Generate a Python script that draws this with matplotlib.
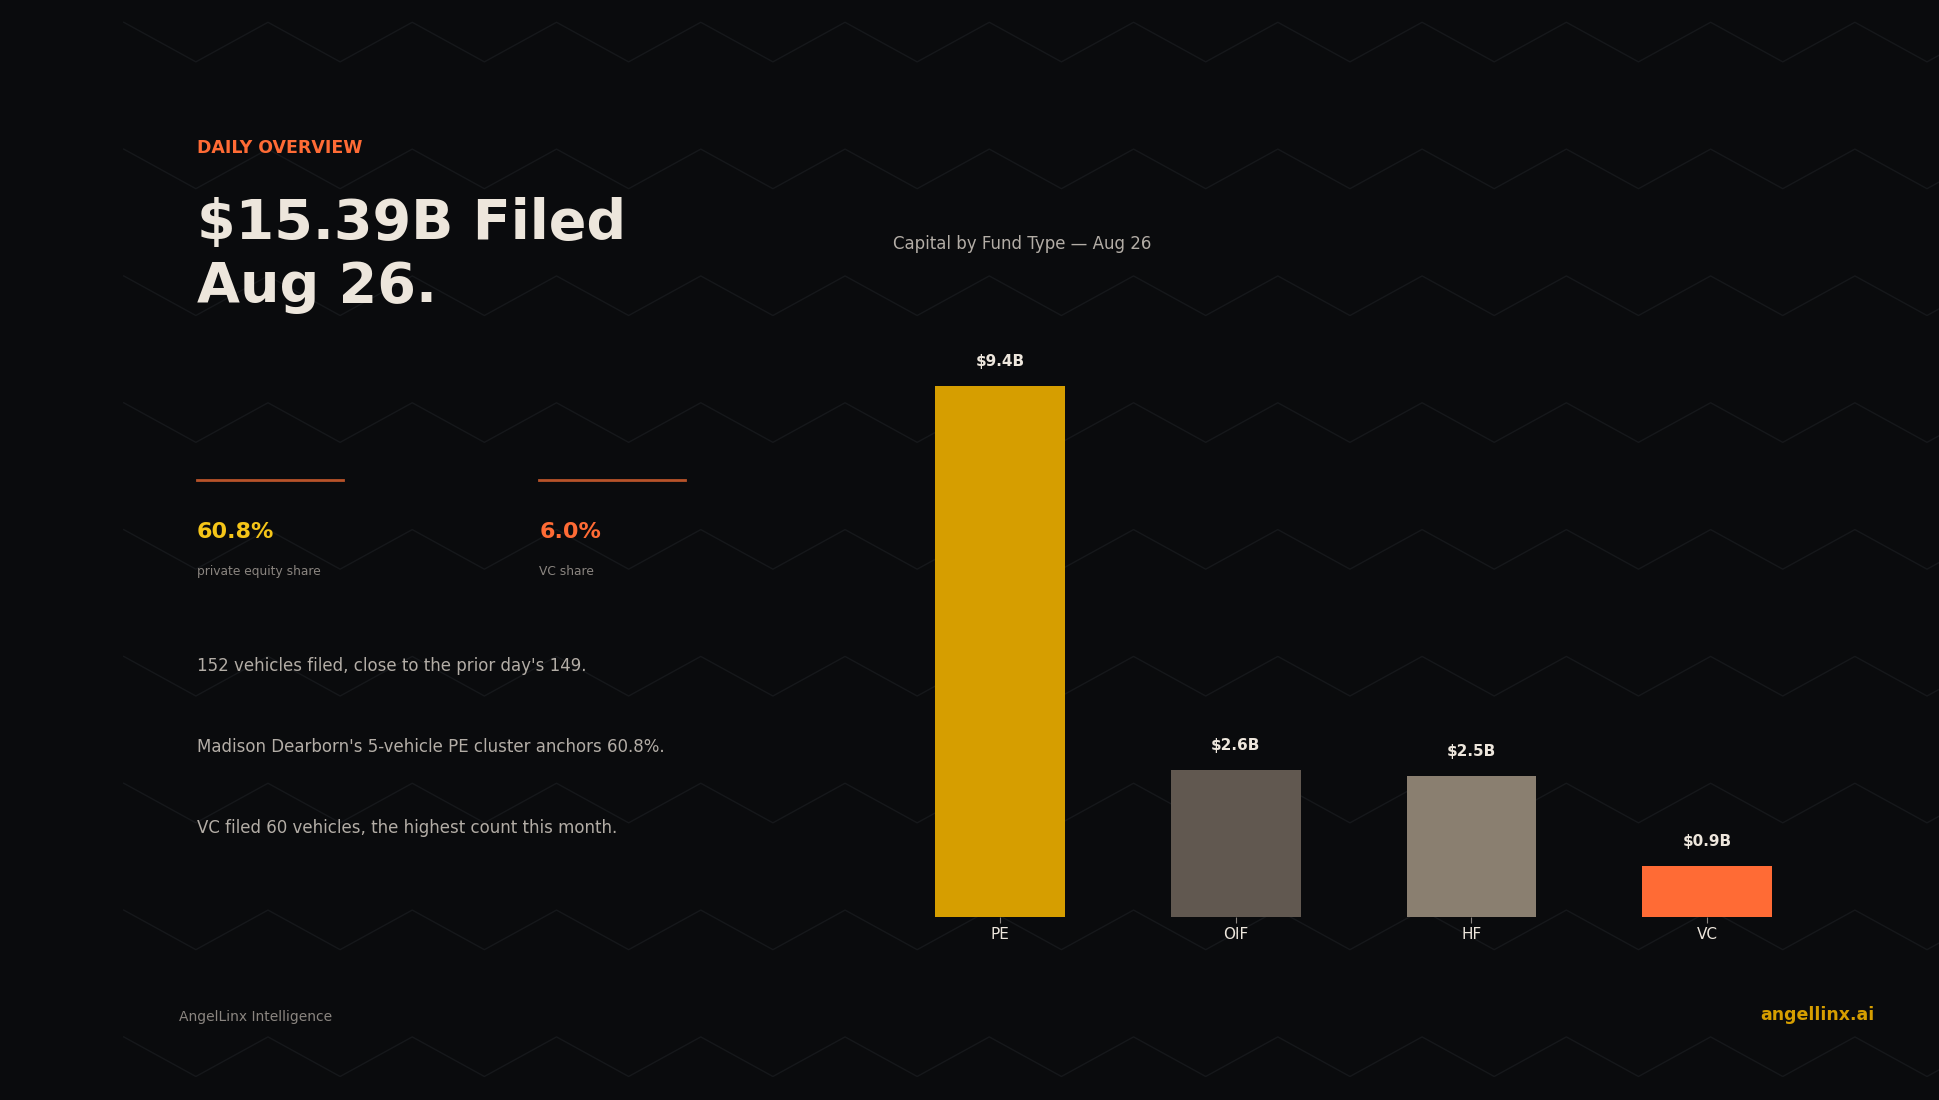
import matplotlib.pyplot as plt
import numpy as np

plt.rcParams['font.family'] = ['DejaVu Sans']

# data
fund_types = ['PE', 'OIF', 'HF', 'VC']
capital_b = [9.4, 2.6, 2.5, 0.9]
bar_labels = ['$9.4B', '$2.6B', '$2.5B', '$0.9B']
bar_colors = ['#d69e00', '#615850', '#8a7f70', '#ff6b35']

BG = '#0a0b0d'
W, H = 1568, 889  # layout grid used for placement


def fx(x):
    return x / W


def fy(y):
    return 1 - y / H


fig = plt.figure(figsize=(19.4, 11), dpi=100, facecolor=BG)

# zigzag background
bg = fig.add_axes([0, 0, 1, 1])
bg.set_xlim(0, W)
bg.set_ylim(H, 0)
bg.axis('off')
bg.set_facecolor(BG)
for row in range(9):
    y0 = 18 + row * 102.5
    xs = np.arange(100, W + 120, 58.3)
    ys = [y0 if (i % 2 == 0) else y0 + 32 for i in range(len(xs))]
    bg.plot(xs, ys, color='#16181b', lw=1.0, zorder=0)

# left text panel
fig.text(fx(159), fy(120), 'DAILY OVERVIEW', color='#ff6b35', fontsize=12.5,
         fontweight='bold', va='center')
fig.text(fx(159), fy(181), '$15.39B Filed', color='#ede6dc', fontsize=40,
         fontweight='bold', va='center')
fig.text(fx(159), fy(232), 'Aug 26.', color='#ede6dc', fontsize=40,
         fontweight='bold', va='center')

for x0, val, col, lab in [(159, '60.8%', '#f5c518', 'private equity share'),
                          (436, '6.0%', '#ff6b35', 'VC share')]:
    fig.add_artist(plt.Line2D([fx(x0), fx(x0 + 118)], [fy(388), fy(388)],
                              color='#b8532a', lw=2))
    fig.text(fx(x0), fy(430), val, color=col, fontsize=16, fontweight='bold',
             va='center')
    fig.text(fx(x0), fy(462), lab, color='#8a8580', fontsize=8.8, va='center')

notes = ["152 vehicles filed, close to the prior day's 149.",
         "Madison Dearborn's 5-vehicle PE cluster anchors 60.8%.",
         "VC filed 60 vehicles, the highest count this month."]
for i, t in enumerate(notes):
    fig.text(fx(159), fy(538 + i * 65.5), t, color='#b3ada6', fontsize=12,
             va='center')

fig.text(fx(145), fy(822), 'AngelLinx Intelligence', color='#8a8580',
         fontsize=10, va='center')
fig.text(fx(1515), fy(820), 'angellinx.ai', color='#d69e00', fontsize=12.5,
         fontweight='bold', va='center', ha='right')

fig.text(fx(722), fy(197), 'Capital by Fund Type — Aug 26', color='#b3ada6',
         fontsize=12, va='center')

# bar chart
ax = fig.add_axes([fx(713), fy(741), fx(1475 - 713), (741 - 262) / H])
ax.set_facecolor('none')
x = np.arange(len(fund_types))
ax.bar(x, capital_b, width=0.55, color=bar_colors)
for xi, v, lab in zip(x, capital_b, bar_labels):
    ax.text(xi, v + 0.3, lab, ha='center', va='bottom', color='#ede6dc',
            fontsize=11, fontweight='bold')
ax.set_xlim(-0.5, 3.5)
ax.set_ylim(0, 10.5)
ax.set_xticks(x)
ax.set_xticklabels(fund_types, color='#ede6dc', fontsize=11)
ax.tick_params(axis='x', colors='#8a8580', labelcolor='#ede6dc', length=4)
ax.set_yticks([])
for s in ax.spines.values():
    s.set_visible(False)

fig.savefig('out.png', dpi=100, facecolor=BG)
